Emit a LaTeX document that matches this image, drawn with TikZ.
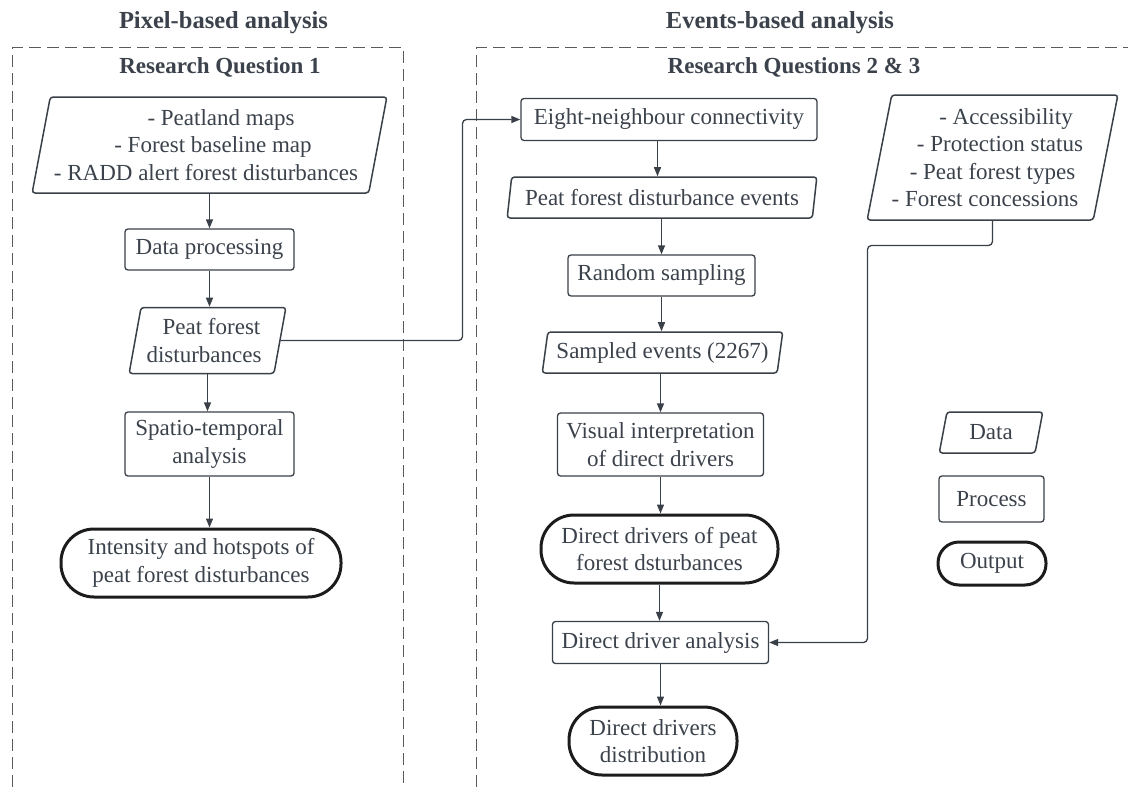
\documentclass[tikz,border=0pt]{standalone}
\usepackage{fontspec}
\setmainfont{Liberation Serif}
\usetikzlibrary{shapes.geometric,arrows.meta}
\definecolor{ink}{HTML}{3B424B}
\definecolor{edge}{HTML}{3A4048}
\definecolor{dark}{HTML}{1C1C1C}
\definecolor{dashc}{HTML}{5A5A5A}
\begin{document}
\begin{tikzpicture}[x=1pt,y=-1pt,
  every node/.style={text=ink, font=\fontsize{23}{27.5}\selectfont, inner sep=0pt, align=center},
  proc/.style={draw=edge, line width=1.3pt, rounded corners=3pt, rectangle},
  dat/.style={draw=edge, line width=1.5pt, rounded corners=3pt, trapezium, trapezium left angle=76, trapezium right angle=104, trapezium stretches=true},
  outp/.style={draw=dark, line width=3pt, rounded corners=33pt, rectangle},
  arr/.style={draw=edge, line width=1.3pt, -{Triangle[length=9pt,width=7pt]}},
  frame/.style={draw=dashc, line width=1.2pt, dash pattern=on 12pt off 6pt},
  ttl/.style={font=\fontsize{24.5}{28}\selectfont\bfseries},
  rq/.style={font=\fontsize{23}{27}\selectfont\bfseries}]
\useasboundingbox (0,0) rectangle (1128,787);

% frames
\draw[frame] (12.5,787) -- (12.5,47.5) -- (403.5,47.5) -- (403.5,787);
\draw[frame] (476.5,787) -- (476.5,47.5) -- (1128,47.5);

% titles
\node[ttl] (t1) at (223.5,23) {Pixel-based analysis};
\node[ttl] (t2) at (780,23) {Events-based analysis};
\node[rq] (rq1) at (220,67) {Research Question 1};
\node[rq] (rq2) at (794,67) {Research Questions 2 \& 3};

% left column
\node[dat, minimum width=355pt, minimum height=96pt] (d1) at (209.5,145)
  {\hspace*{23pt}- Peatland maps\\ \hspace*{7pt}- Forest baseline map\\ - RADD alert forest disturbances\hspace*{7pt}};
\node[proc, minimum width=169pt, minimum height=41pt] (dp) at (209.5,249.5) {Data processing};
\node[dat, minimum width=157pt, minimum height=66pt] (pfd) at (207.5,340.5)
  {\hspace*{8pt}Peat forest\\ disturbances\hspace*{7pt}};
\node[proc, minimum width=169pt, minimum height=64pt] (sta) at (209.5,444) {Spatio-temporal\\ analysis};
\node[outp, minimum width=280pt, minimum height=68pt] (int) at (201,563) {Intensity and hotspots of\\ peat forest disturbances};

% right column
\node[proc, minimum width=296pt, minimum height=42pt] (eight) at (669,119.5) {Eight-neighbour connectivity};
\node[dat, minimum width=310pt, minimum height=41pt] (pfe) at (662,197.5) {Peat forest disturbance events};
\node[proc, minimum width=187pt, minimum height=41pt] (rs) at (661.5,275.5) {Random sampling};
\node[dat, minimum width=241pt, minimum height=41pt] (se) at (662.5,352.5) {Sampled events (2267)};
\node[proc, minimum width=206pt, minimum height=63pt] (vis) at (660.5,444.5) {Visual interpretation\\ of direct drivers};
\node[outp, minimum width=237pt, minimum height=68pt] (ddo) at (659.5,549) {Direct drivers of peat\\ forest dsturbances};
\node[proc, minimum width=216pt, minimum height=42pt] (dda) at (660.5,642.5) {Direct driver analysis};
\node[outp, minimum width=168pt, minimum height=68pt] (ddd) at (653,741) {Direct drivers\\ distribution};

\node[dat, minimum width=239pt, minimum height=125pt] (d2) at (992.5,157.5)
  {\hspace*{27pt}- Accessibility\\ \hspace*{15pt}- Protection status\\ - Peat forest types\hspace*{1pt}\\ - Forest concessions\hspace*{15pt}};

% legend
\node[dat, minimum width=104pt, minimum height=41pt] (lgd) at (991,432.5) {Data};
\node[proc, minimum width=105pt, minimum height=46pt] (lgp) at (991.5,499) {Process};
\node[outp, rounded corners=21pt, minimum width=108pt, minimum height=43pt] (lgo) at (992,563.5) {Output};

% helper coordinates
\coordinate (jx) at (462.5,0);
\coordinate (c1) at (657.5,0);
\coordinate (j2) at (867.5,245.5);

% connectors left
\draw[arr] (dp.north |- d1.south) -- (dp.north);
\draw[arr] (dp.south) -- (dp.south |- pfd.north);
\draw[arr] (pfd.center |- pfd.south) -- (pfd.center |- sta.north);
\draw[arr] (sta.south) -- (sta.south |- int.north);
\draw[arr, rounded corners=4pt] (pfd.east) -- (pfd.east -| jx) -- (jx |- eight.west) -- (eight.west);

% connectors right
\draw[arr] (eight.south -| c1) -- (pfe.north -| c1);
\draw[arr] (rs.north |- pfe.south) -- (rs.north);
\draw[arr] (rs.south) -- (rs.south |- se.north);
\draw[arr] (vis.north |- se.south) -- (vis.north);
\draw[arr] (vis.south) -- (vis.south |- ddo.north);
\draw[arr] (ddo.south) -- (ddo.south |- dda.north);
\draw[arr] (dda.south) -- (dda.south |- ddd.north);
\draw[arr, rounded corners=4pt] (d2.center |- d2.south) -- (d2.center |- j2) -- (j2) -- (j2 |- dda.east) -- (dda.east);
\end{tikzpicture}
\end{document}
